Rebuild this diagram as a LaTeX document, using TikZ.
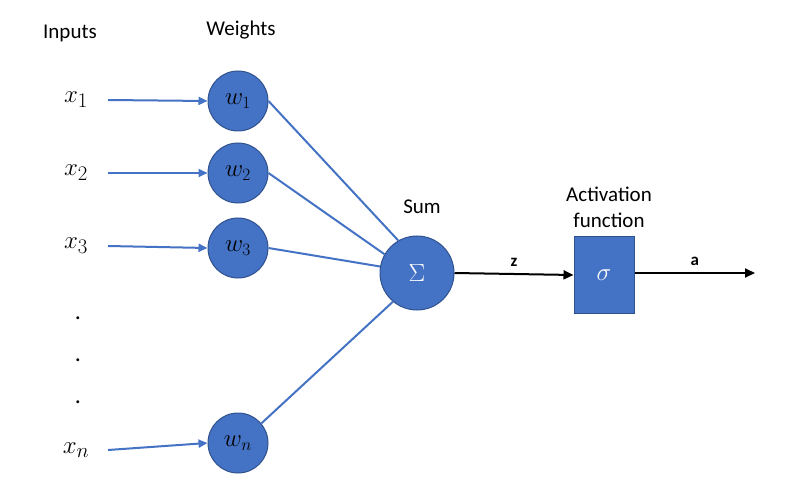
\documentclass[tikz,border=0pt]{standalone}
\usepackage{fontspec}
\setmainfont{Carlito}
\usetikzlibrary{arrows.meta}
\definecolor{nb}{HTML}{4472C4}
\definecolor{ne}{HTML}{2F528F}
\begin{document}
\begin{tikzpicture}[x=1pt,y=-1pt,
  wn/.style={circle,fill=nb,draw=ne,line width=1pt,minimum size=60pt,inner sep=0pt,font=\fontsize{26}{26}\selectfont},
  lbl/.style={font=\fontsize{21}{24}\selectfont,align=center},
  xin/.style={font=\fontsize{28}{28}\selectfont},
  blu/.style={draw=nb,line width=2pt},
  bar/.style={blu,-{Triangle[length=9pt,width=8pt]}},
  blk/.style={draw=black,line width=2pt,-{Triangle[length=10pt,width=9pt]}}]
\useasboundingbox (0,0) rectangle (796,500);
\node[lbl] (inp) at (70,33) {Inputs};
\node[lbl] (wts) at (241,30) {Weights};
\node[xin] (x1) at (76,100) {$x_1$};
\node[xin] (x2) at (76,173) {$x_2$};
\node[xin] (x3) at (76,246) {$x_3$};
\node[xin] (xn) at (76,450) {$x_n$};
\node[wn] (w1) at (238,101) {$w_1$};
\node[wn] (w2) at (238,173) {$w_2$};
\node[wn] (w3) at (238,248) {$w_3$};
\node[wn] (w4) at (238,443) {$w_n$};
\node[wn,minimum size=74pt,text=white] (s) at (417,273) {$\Sigma$};
\node[lbl] (sl) at (422,207) {Sum};
\node[fill=nb,draw=ne,line width=1pt,minimum width=60pt,minimum height=76pt,text=white,font=\fontsize{30}{30}\selectfont] (sg) at (604,275) {$\sigma$};
\node[lbl,font=\fontsize{21}{26}\selectfont] (af) at (609,207) {Activation\\function};
\coordinate (out) at (755,273);
\foreach \i in {1,2,3} \draw[bar] (x\i.east -| 108,0) ++(0,0) -- (w\i.west);
\draw[bar] (108,450) -- (w4.west);
\draw[blu] (w1.east) -- (s.120);
\draw[blu] (w2.east) -- (s.150);
\draw[blu] (w3.east) -- (s.170);
\draw[blu] (w4.40) -- (s.230);
\draw[blk] (s.east) -- node[above=3pt,font=\bfseries\fontsize{17}{17}\selectfont]{z} (sg.west);
\draw[blk] (sg.east |- out) -- node[above=3pt,font=\bfseries\fontsize{17}{17}\selectfont]{a} (out);
\foreach \y [count=\k] in {318,360,402} \node[font=\fontsize{24}{24}\selectfont] (d\k) at (78,\y) {.};
\end{tikzpicture}
\end{document}
